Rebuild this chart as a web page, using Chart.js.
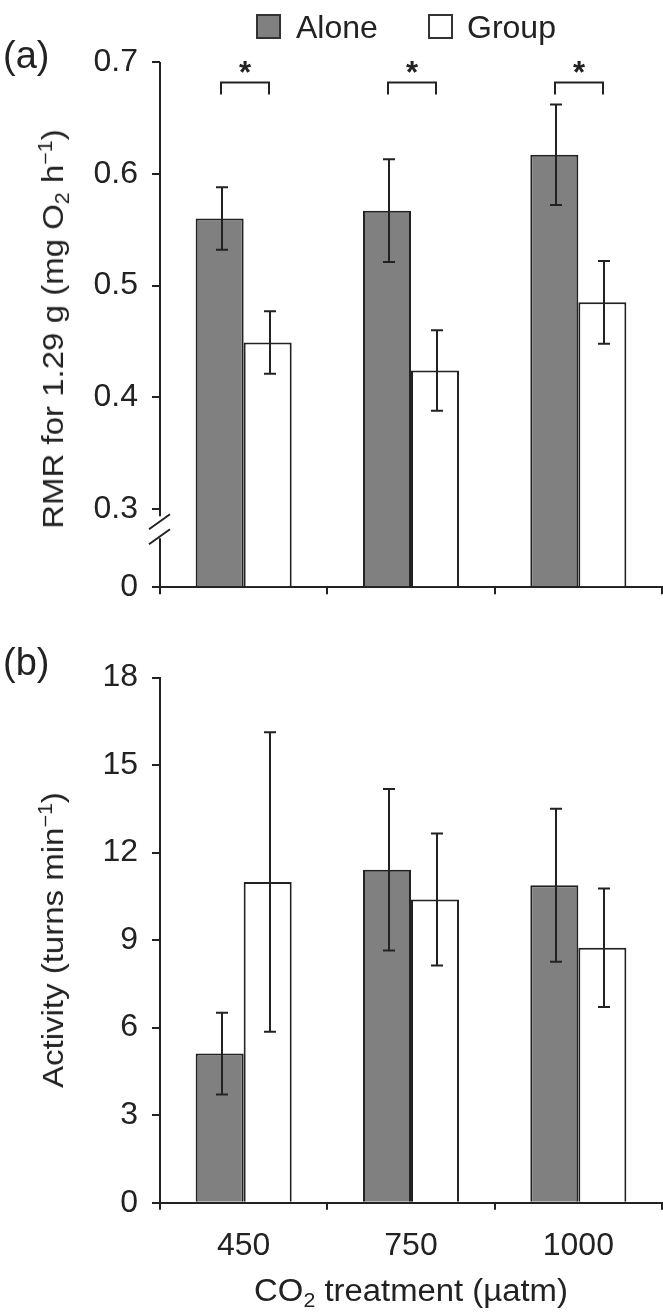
<!DOCTYPE html>
<html>
<head>
<meta charset="utf-8">
<script src="https://cdn.jsdelivr.net/npm/chart.js@4.4.1/dist/chart.umd.min.js"></script>
<style>
  html, body { margin: 0; padding: 0; background: #fff; }
  body { width: 663px; height: 1314px; position: relative; overflow: hidden;
         font-family: "Liberation Sans", Arial, Helvetica, sans-serif; color: #222; }
  .wrap { position: absolute; left: 0; }
  .txt { position: absolute; white-space: nowrap; line-height: 1; }
  .rot { transform: translate(-50%, -50%) rotate(-90deg) scaleX(1.1); }
  .sub { font-size: 0.65em; position: relative; top: 0.3em; }
  .sup { font-size: 0.65em; position: relative; top: -0.55em; }
  .box { position: absolute; width: 25px; height: 25px; border: 2px solid #333; box-sizing: border-box; }
</style>
</head>
<body>
<div class="wrap" style="top:0;width:663px;height:640px;"><canvas id="c1" width="663" height="640"></canvas></div>
<div class="wrap" style="top:640px;width:663px;height:674px;"><canvas id="c2" width="663" height="674"></canvas></div>

<!-- legend -->
<div class="box" style="left:256px;top:14px;background:#808080;"></div>
<div class="txt" style="left:296px;top:11px;font-size:32px;">Alone</div>
<div class="box" style="left:428px;top:14px;background:#fff;"></div>
<div class="txt" style="left:467px;top:11px;font-size:32px;">Group</div>

<!-- panel labels -->
<div class="txt" style="left:3px;top:36px;font-size:38px;">(a)</div>
<div class="txt" style="left:3px;top:643px;font-size:38px;">(b)</div>

<!-- axis titles -->
<div class="txt rot" style="left:53px;top:329px;font-size:30px;">RMR for 1.29 g (mg O<span class="sub">2</span> h<span class="sup">&minus;1</span>)</div>
<div class="txt rot" style="left:53px;top:940px;font-size:30px;">Activity (turns min<span class="sup">&minus;1</span>)</div>
<div class="txt" style="left:411px;top:1290px;transform:translate(-50%,-50%) scaleX(1.06);font-size:31px;">CO<span class="sub">2</span> treatment (µatm)</div>

<script>
// ---------- data ----------
const categories = ['450', '750', '1000'];
const seriesNames = ['Alone', 'Group'];

const rmrAlone    = [0.560, 0.567, 0.617];
const rmrAloneErr = [0.028, 0.046, 0.045];
const rmrGroup    = [0.449, 0.424, 0.485];
const rmrGroupErr = [0.028, 0.036, 0.037];
const rmrTicks    = [0.3, 0.4, 0.5, 0.6, 0.7];
const rmrBreakBase = 0.23;          // value drawn as the "0" after the axis break
const rmrSignificant = [true, true, true];

const actAlone    = [5.11, 11.41, 10.88];
const actAloneErr = [1.40, 2.77, 2.62];
const actGroup    = [10.99, 10.39, 8.74];
const actGroupErr = [5.13, 2.26, 2.03];
const actTicks    = [0, 3, 6, 9, 12, 15, 18];

// ---------- styles ----------
const INK = '#222';
const FONT = "'Liberation Sans', Arial, Helvetica, sans-serif";
const GRAY = '#808080';

Chart.defaults.font.family = FONT;
Chart.defaults.color = INK;
Chart.defaults.animation = false;

const errorBarPlugin = {
  id: 'errorBars',
  afterDatasetsDraw(chart) {
    const ctx = chart.ctx, y = chart.scales.y;
    ctx.save();
    ctx.strokeStyle = INK; ctx.lineWidth = 2;
    chart.data.datasets.forEach((ds, i) => {
      const meta = chart.getDatasetMeta(i);
      meta.data.forEach((bar, j) => {
        const v = ds.data[j], e = ds.errors[j];
        const x = Math.round(bar.x) + 2;
        const yt = y.getPixelForValue(v + e), yb = y.getPixelForValue(v - e);
        ctx.beginPath();
        ctx.moveTo(x, yt); ctx.lineTo(x, yb);
        ctx.moveTo(x - 6, yt); ctx.lineTo(x + 6, yt);
        ctx.moveTo(x - 6, yb); ctx.lineTo(x + 6, yb);
        ctx.stroke();
      });
    });
    ctx.restore();
  }
};

const brokenAxisPlugin = {
  id: 'brokenAxis',
  afterDraw(chart, args, opts) {
    if (!opts || !opts.enabled) return;
    const ctx = chart.ctx, y = chart.scales.y, ca = chart.chartArea;
    const xa = ca.left;
    const yb = y.getPixelForValue(opts.breakAt);
    ctx.save();
    ctx.strokeStyle = INK; ctx.lineWidth = 2;
    ctx.beginPath();
    ctx.moveTo(xa, ca.top); ctx.lineTo(xa, yb - 14);
    ctx.moveTo(xa, yb + 8); ctx.lineTo(xa, ca.bottom + 6);
    // slashes
    ctx.moveTo(xa - 11, yb - 1); ctx.lineTo(xa + 10, yb - 16);
    ctx.moveTo(xa - 11, yb + 14); ctx.lineTo(xa + 10, yb - 1);
    ctx.stroke();
    ctx.restore();
  }
};

const bracketPlugin = {
  id: 'sigBrackets',
  afterDraw(chart, args, opts) {
    if (!opts || !opts.enabled) return;
    const ctx = chart.ctx, y = chart.scales.y;
    const m0 = chart.getDatasetMeta(0), m1 = chart.getDatasetMeta(1);
    const yl = y.getPixelForValue(opts.level);
    ctx.save();
    ctx.strokeStyle = INK; ctx.fillStyle = INK; ctx.lineWidth = 2;
    ctx.font = "bold 31px " + FONT;
    ctx.textAlign = 'center'; ctx.textBaseline = 'middle';
    opts.flags.forEach((f, j) => {
      if (!f) return;
      const x1 = Math.round(m0.data[j].x) + 1, x2 = Math.round(m1.data[j].x) + 1;
      ctx.beginPath();
      ctx.moveTo(x1, yl + opts.drop); ctx.lineTo(x1, yl); ctx.lineTo(x2, yl); ctx.lineTo(x2, yl + opts.drop);
      ctx.stroke();
      ctx.fillText('*', (x1 + x2) / 2, yl - 8);
    });
    ctx.restore();
  }
};

function makeChart(id, cfg) {
  const barBase = {
    borderColor: INK, borderWidth: 2, borderSkipped: 'bottom',
    categoryPercentage: 0.574, barPercentage: 1.0
  };
  return new Chart(document.getElementById(id), {
    type: 'bar',
    data: {
      labels: categories,
      datasets: [
        Object.assign({}, barBase, { label: seriesNames[0], data: cfg.alone, errors: cfg.aloneErr, backgroundColor: GRAY, base: cfg.base }),
        Object.assign({}, barBase, { label: seriesNames[1], data: cfg.group, errors: cfg.groupErr, backgroundColor: '#ffffff', base: cfg.base })
      ]
    },
    options: {
      responsive: false,
      animation: false,
      layout: { padding: cfg.padding },
      plugins: {
        legend: { display: false },
        tooltip: { enabled: false },
        brokenAxis: cfg.brokenAxis || { enabled: false },
        sigBrackets: cfg.brackets || { enabled: false }
      },
      scales: {
        x: {
          type: 'category',
          offset: true,
          grid: { offset: true, drawOnChartArea: false, drawTicks: true, tickLength: 7, color: INK, lineWidth: 2 },
          border: { display: true, color: INK, width: 2 },
          ticks: { display: cfg.showX, font: { size: 32 }, color: INK, padding: 17, maxRotation: 0 },
          afterFit: s => { s.height = cfg.xHeight; }
        },
        y: {
          min: cfg.min, max: cfg.max,
          grid: { drawOnChartArea: false, drawTicks: true, tickLength: 8, color: INK, lineWidth: 2 },
          border: { display: !cfg.brokenAxis, color: INK, width: 2 },
          afterBuildTicks: s => { s.ticks = cfg.ticks.map(v => ({ value: v })); },
          ticks: {
            font: { size: 32 }, color: INK, padding: 14,
            callback: cfg.tickLabel
          },
          afterFit: s => { s.width = 160; }
        }
      }
    },
    plugins: [errorBarPlugin, brokenAxisPlugin, bracketPlugin]
  });
}

makeChart('c1', {
  alone: rmrAlone, aloneErr: rmrAloneErr, group: rmrGroup, groupErr: rmrGroupErr,
  base: rmrBreakBase, min: rmrBreakBase, max: 0.7,
  ticks: [rmrBreakBase].concat(rmrTicks),
  tickLabel: v => (Math.abs(v - rmrBreakBase) < 1e-9 ? '0' : Number(v).toFixed(1)),
  padding: { top: 62, left: 0, right: 1, bottom: 0 },
  xHeight: 52.7, showX: false,
  brokenAxis: { enabled: true, breakAt: 0.281 },
  brackets: { enabled: true, level: 0.6817, drop: 12, flags: rmrSignificant }
});

makeChart('c2', {
  alone: actAlone, aloneErr: actAloneErr, group: actGroup, groupErr: actGroupErr,
  base: 0, min: 0, max: 18,
  ticks: actTicks,
  tickLabel: v => String(v),
  padding: { top: 37.5, left: 0, right: 1, bottom: 0 },
  xHeight: 111.3, showX: true
});
</script>
</body>
</html>
